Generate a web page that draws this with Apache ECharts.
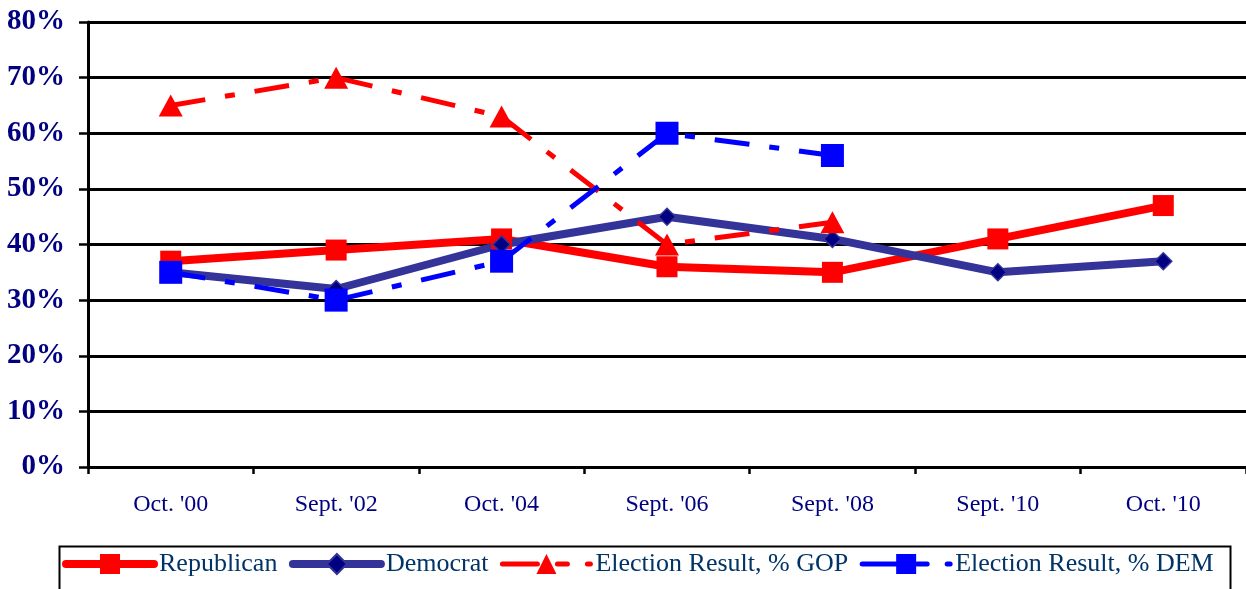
<!DOCTYPE html>
<html>
<head>
<meta charset="utf-8">
<script src="https://cdn.jsdelivr.net/npm/echarts@6/dist/echarts.min.js"></script>
<style>
html,body{margin:0;padding:0;background:#fff;}
#chart{width:1246px;height:589px;}
</style>
</head>
<body>
<div id="chart"></div>
<script>
const categories = ["Oct. '00", "Sept. '02", "Oct. '04", "Sept. '06", "Sept. '08", "Sept. '10", "Oct. '10"];
const republican = [37, 39, 41, 36, 35, 41, 47];
const democrat = [35, 32, 40, 45, 41, 35, 37];
const gopResult = [65, 70, 63, 40, 44, null, null];
const demResult = [35, 30, 37, 60, 56, null, null];
const seriesNames = ["Republican", "Democrat", "Election Result, % GOP", "Election Result, % DEM"];
const yMin = 0, yMax = 80, yStep = 10;

const FONT = "'Liberation Serif', 'Times New Roman', serif";
const dash = [35, 20, 10, 20];

const chart = echarts.init(document.getElementById('chart'), null, {renderer: 'canvas'});
chart.setOption({
  animation: false,
  backgroundColor: '#ffffff',
  grid: {left: 88, right: 0, top: 22, bottom: 122, containLabel: false},
  xAxis: {
    type: 'category',
    data: categories,
    boundaryGap: true,
    axisLine: {show: true, lineStyle: {color: '#000', width: 3}},
    axisTick: {show: true, length: 7, lineStyle: {color: '#000', width: 2.5}},
    axisLabel: {color: '#000080', fontFamily: FONT, fontSize: 24, margin: 26},
    splitLine: {show: false}
  },
  yAxis: {
    type: 'value',
    min: yMin, max: yMax, interval: yStep,
    axisLine: {show: true, lineStyle: {color: '#000', width: 3}},
    axisTick: {show: true, length: 9, lineStyle: {color: '#000', width: 2.5}},
    axisLabel: {color: '#000080', fontFamily: FONT, fontSize: 29, fontWeight: 'bold', margin: 23,
      formatter: v => v + '%', padding: [5, 0, 0, 0]},
    splitLine: {show: true, lineStyle: {color: '#000', width: 3}}
  },
  legend: {
    left: 62, top: 551, padding: 0,
    itemWidth: 88, itemHeight: 25, itemGap: 11.5,
    textStyle: {color: '#003366', fontFamily: FONT, fontSize: 26, padding: [4, 0, 0, 0]},
    lineStyle: {width: 'inherit', cap: 'round'},
    data: seriesNames
  },
  graphic: [{
    type: 'rect', left: 57, top: 544, silent: true, z: -1,
    shape: {width: 1171, height: 60},
    style: {fill: 'none', stroke: '#000', lineWidth: 2}
  }],
  series: [
    {
      name: seriesNames[0], type: 'line', data: republican,
      symbol: 'rect', symbolSize: 21,
      lineStyle: {color: '#FF0000', width: 8},
      itemStyle: {color: '#FF0000'}
    },
    {
      name: seriesNames[1], type: 'line', data: democrat,
      symbol: 'diamond', symbolSize: 17,
      lineStyle: {color: '#333399', width: 8},
      itemStyle: {color: '#000080', borderColor: '#333399', borderWidth: 1.5}
    },
    {
      name: seriesNames[2], type: 'line', data: gopResult,
      symbol: 'triangle', symbolSize: [24, 22],
      lineStyle: {color: '#FF0000', width: 5, type: dash},
      itemStyle: {color: '#FF0000'}
    },
    {
      name: seriesNames[3], type: 'line', data: demResult,
      symbol: 'rect', symbolSize: 23,
      lineStyle: {color: '#0000FF', width: 5, type: dash},
      itemStyle: {color: '#0000FF'}
    }
  ]
});
</script>
</body>
</html>
